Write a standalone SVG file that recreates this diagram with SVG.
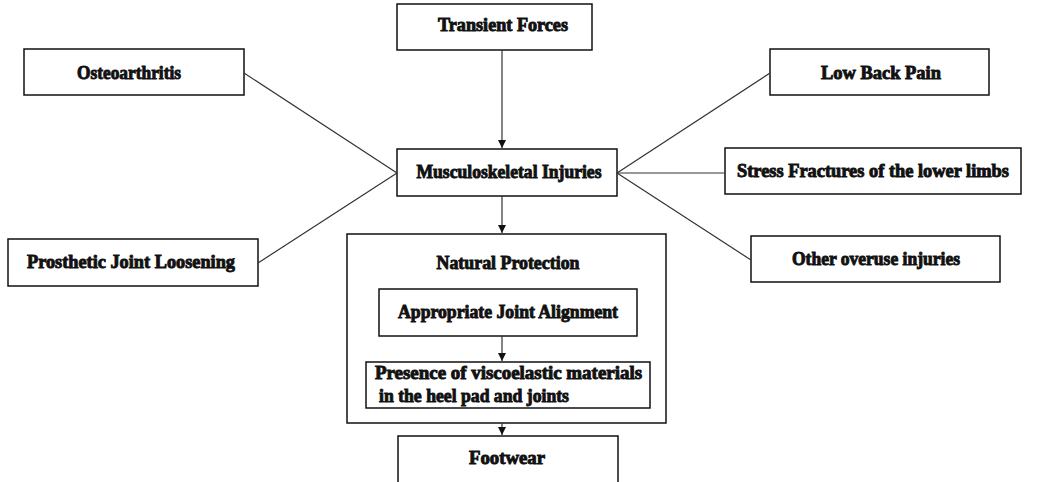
<svg xmlns="http://www.w3.org/2000/svg" width="1041" height="482" viewBox="0 0 1041 482">
<style>
.box{fill:#fff;stroke:#111;stroke-width:1.5}
.t{font-family:"Liberation Serif","Times New Roman",serif;font-weight:bold;font-size:18px;fill:#111;stroke:#111;stroke-width:0.9;text-anchor:middle;dominant-baseline:central}
.tl{text-anchor:start}
.c{stroke:#333;stroke-width:1.2;fill:none}
</style>
<defs>
<marker id="ah" viewBox="0 0 10 10" refX="10" refY="5" markerWidth="8" markerHeight="8" markerUnits="userSpaceOnUse" orient="auto">
<path d="M0,0 L10,5 L0,10 z" fill="#111"/>
</marker>
</defs>
<rect width="1041" height="482" fill="#fff"/>
<g id="transient">
<rect class="box" x="397" y="4" width="195" height="46"/>
<text class="t" x="503" y="25" textLength="130" lengthAdjust="spacingAndGlyphs">Transient Forces</text>
</g>
<g id="osteoarthritis">
<rect class="box" x="24" y="49" width="220" height="46"/>
<text class="t" x="129" y="73" textLength="104" lengthAdjust="spacingAndGlyphs">Osteoarthritis</text>
</g>
<g id="prosthetic">
<rect class="box" x="8" y="239" width="250" height="47"/>
<text class="t" x="131" y="262" textLength="208" lengthAdjust="spacingAndGlyphs">Prosthetic Joint Loosening</text>
</g>
<g id="musculoskeletal">
<rect class="box" x="397" y="149" width="220" height="47"/>
<text class="t" x="509" y="172" textLength="185" lengthAdjust="spacingAndGlyphs">Musculoskeletal Injuries</text>
</g>
<g id="lowback">
<rect class="box" x="770" y="49" width="219" height="46"/>
<text class="t" x="881" y="73" textLength="120" lengthAdjust="spacingAndGlyphs">Low Back Pain</text>
</g>
<g id="stress">
<rect class="box" x="725" y="148" width="296" height="46"/>
<text class="t" x="873" y="171" textLength="272" lengthAdjust="spacingAndGlyphs">Stress Fractures of the lower limbs</text>
</g>
<g id="overuse">
<rect class="box" x="751" y="236" width="249" height="46"/>
<text class="t" x="876" y="259" textLength="168" lengthAdjust="spacingAndGlyphs">Other overuse injuries</text>
</g>
<g id="natural">
<rect class="box" x="347" y="234" width="319" height="189"/>
<text class="t" x="508" y="263" textLength="143" lengthAdjust="spacingAndGlyphs">Natural Protection</text>
</g>
<g id="alignment">
<rect class="box" x="379" y="289" width="258" height="47"/>
<text class="t" x="508" y="312" textLength="220" lengthAdjust="spacingAndGlyphs">Appropriate Joint Alignment</text>
</g>
<g id="viscoelastic">
<rect class="box" x="366" y="362" width="284" height="46"/>
<text class="t tl" x="375" y="373" textLength="267" lengthAdjust="spacingAndGlyphs">Presence of viscoelastic materials</text>
<text class="t tl" x="379" y="396" textLength="190" lengthAdjust="spacingAndGlyphs">in the heel pad and joints</text>
</g>
<g id="footwear">
<rect class="box" x="398" y="436" width="220" height="60"/>
<text class="t" x="507" y="458" textLength="76" lengthAdjust="spacingAndGlyphs">Footwear</text>
</g>
<g id="connectors">
<line class="c" x1="502" y1="50" x2="502" y2="148" marker-end="url(#ah)"/>
<line class="c" x1="244" y1="73" x2="397" y2="173"/>
<line class="c" x1="258" y1="263" x2="397" y2="173"/>
<line class="c" x1="617" y1="173" x2="770" y2="73"/>
<line class="c" x1="617" y1="173" x2="725" y2="173"/>
<line class="c" x1="617" y1="173" x2="751" y2="260"/>
<line class="c" x1="502" y1="196" x2="502" y2="233" marker-end="url(#ah)"/>
<line class="c" x1="502" y1="336" x2="502" y2="361" marker-end="url(#ah)"/>
<line class="c" x1="502" y1="423" x2="502" y2="435" marker-end="url(#ah)"/>
</g>
</svg>
